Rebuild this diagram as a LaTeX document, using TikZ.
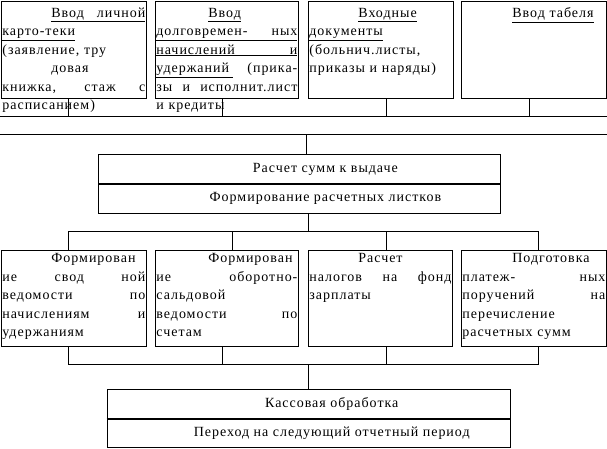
\documentclass[tikz,border=0pt]{standalone}
\usepackage{fontspec}
\setmainfont{Liberation Serif}[LetterSpace=7]
\newcommand{\jl}[1]{\makebox[\linewidth][s]{\spaceskip=0.3em plus 20em\relax #1}}
\newcommand{\ulj}[2]{\underline{\makebox[#1][s]{\spaceskip=0.3em plus 20em\relax #2}}}

\begin{document}
\begin{tikzpicture}[x=1pt, y=-1pt, line width=0.8pt,
	every node/.style={font=\fontsize{14}{18.5}\selectfont},
	blk/.style={draw, rectangle, anchor=north west, minimum height=97pt, inner sep=0pt},
	txt/.style={anchor=north west, align=left, inner xsep=1pt, inner ysep=6.5pt},
	bar/.style={draw, rectangle, anchor=north west, inner sep=0pt}]
	\useasboundingbox (0,0) rectangle (607,448);
	% input documents
	\foreach \n/\x/\w in {in1/1/145pt, in2/155/143pt, in3/308/145pt, in4/461/145pt} {\node[blk, minimum width=\w] (\n) at (\x,1) {};}
	\node[txt, text width=143pt] (in1t) at (in1.north west) {\hspace*{49pt}\ulj{94pt}{Ввод личной}\\ \underline{карто-теки}\\ (заявление, тру\\ \hspace*{49pt}довая\\ \jl{книжка, стаж с}\\ расписанием)};
	\node[txt, text width=141pt] (in2t) at (in2.north west) {\hspace*{52pt}\underline{Ввод}\\ \underline{\jl{долговремен- ных}}\\ \underline{\jl{начислений и}}\\ \jl{\underline{удержаний\ } (прика-}\\ \jl{зы и исполнит.лист}\\ и кредиты};
	\node[txt, text width=143pt] (in3t) at (in3.north west) {\hspace*{49pt}\underline{Входные}\\ \underline{документы}\\ (больнич.листы,\\ приказы и наряды)};
	\node[txt, text width=143pt] (in4t) at (in4.north west) {\hspace*{50pt}\underline{Ввод табеля}};
	% buses
	\coordinate (busA) at (0,116); \coordinate (busA') at (607,116);
	\coordinate (busB) at (0,134); \coordinate (busB') at (607,134);
	\draw (busA) -- (busA'); \draw (busB) -- (busB');
	\foreach \n/\x in {in1/68, in2/222, in3/386, in4/529} {\draw (\x,0 |- \n.south) -- (\x,0 |- busA);}
	% calculation
	\node[bar, minimum width=402.6pt, minimum height=29pt] (calc) at (97.7,154.3) {\hspace*{52pt}Расчет сумм к выдаче};
	\node[bar, minimum width=402.6pt, minimum height=28.7pt] (sheet) at (calc.south west) {\hspace*{52pt}Формирование расчетных листков};
	\coordinate (t1) at (306,134); \draw (t1) -- (t1 |- calc.north);
	\coordinate (busC) at (68.5,231); \coordinate (busC') at (538.5,231);
	\draw (busC) -- (busC');
	\coordinate (t2) at (308,231); \draw (t2) -- (t2 |- sheet.south);
	% reports
	\foreach \n/\x/\w in {fm1/1/145pt, fm2/155/143pt, fm3/308/144pt, fm4/461/145pt} {\node[blk, minimum width=\w, minimum height=96pt] (\n) at (\x,250) {};}
	\node[txt, text width=143pt, inner ysep=3pt] (fm1t) at (fm1.north west) {\hspace*{49pt}Формирован\\ \jl{ие свод ной}\\ \jl{ведомости по}\\ \jl{начислениям и}\\ удержаниям};
	\node[txt, text width=141pt, inner ysep=3pt] (fm2t) at (fm2.north west) {\hspace*{52pt}Формирован\\ \jl{ие оборотно-}\\ сальдовой\\ \jl{ведомости по}\\ счетам};
	\node[txt, text width=142pt, inner ysep=3pt] (fm3t) at (fm3.north west) {\hspace*{49pt}Расчет\\ \jl{налогов на фонд}\\ зарплаты};
	\node[txt, text width=143pt, inner ysep=3pt] (fm4t) at (fm4.north west) {\hspace*{50pt}Подготовка\\ \jl{платеж- ных}\\ \jl{поручений на}\\ перечисление\\ расчетных сумм};
	\foreach \n/\x in {fm1/68.5, fm2/232, fm3/386, fm4/538.5} {\draw (\x,0 |- busC) -- (\x,0 |- \n.north);}
	\coordinate (busD) at (68.5,364.7); \coordinate (busD') at (538.5,364.7);
	\draw (busD) -- (busD');
	\foreach \n/\x in {fm1/68.5, fm2/222, fm3/386, fm4/538.5} {\draw (\x,0 |- \n.south) -- (\x,0 |- busD);}
	% cash desk
	\node[bar, minimum width=403.3pt, minimum height=28.4pt] (cash) at (106.7,389.3) {\hspace*{46pt}Кассовая обработка};
	\node[bar, minimum width=403.3pt, minimum height=28.6pt] (next) at (cash.south west) {\hspace*{46pt}Переход на следующий отчетный период};
	\draw[line width=1.8pt] (cash.south west) -- (cash.south east);
	\coordinate (t3) at (308,364.7); \draw (t3) -- (t3 |- cash.north);
\end{tikzpicture}
\end{document}
